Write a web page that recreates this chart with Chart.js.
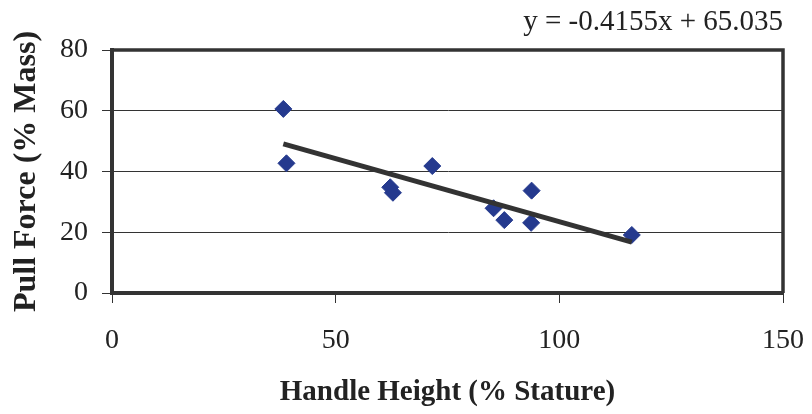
<!DOCTYPE html>
<html>
<head>
<meta charset="utf-8">
<script src="https://cdn.jsdelivr.net/npm/chart.js@4.4.1/dist/chart.umd.min.js"></script>
<style>
  html, body { margin: 0; padding: 0; background: #ffffff; }
  canvas { display: block; }
</style>
</head>
<body>
<canvas id="chart" width="812" height="414"></canvas>
<script>
// Handle height (% stature) and measured pull force (% body mass)
const handleHeight = [38.3, 39.0, 62.2, 62.8, 71.6, 85.3, 87.7, 93.7, 93.8, 116.2];
const pullForce    = [60.6, 42.7, 34.8, 33.0, 41.8, 27.9, 24.0, 23.1, 33.7, 19.1];

// Axis tick values
const xTickValues = [0, 50, 100, 150];
const yTickValues = [0, 20, 40, 60, 80];

// Linear trendline coefficients
const trendSlope = -0.4155;
const trendIntercept = 65.035;

const AXIS_COLOR = '#333333';
const TEXT_COLOR = '#222222';
const SERIF = "'Liberation Serif', 'Times New Roman', serif";

Chart.defaults.font.family = SERIF;
Chart.defaults.color = TEXT_COLOR;

const points = handleHeight.map((x, i) => ({ x: x, y: pullForce[i] }));
const xMin = Math.min(...handleHeight);
const xMax = Math.max(...handleHeight);
const trendPoints = [
  { x: xMin, y: trendSlope * xMin + trendIntercept },
  { x: xMax, y: trendSlope * xMax + trendIntercept }
];
const equationText = `y = ${trendSlope}x + ${trendIntercept}`;

// Outline the plot area on the top and right sides
const plotFrame = {
  id: 'plotFrame',
  beforeDatasetsDraw(chart) {
    const { ctx, chartArea: a } = chart;
    ctx.save();
    ctx.strokeStyle = AXIS_COLOR;
    ctx.lineWidth = 3.5;
    ctx.beginPath();
    ctx.moveTo(a.left, a.top);
    ctx.lineTo(a.right, a.top);
    ctx.lineTo(a.right, a.bottom);
    ctx.stroke();
    ctx.restore();
  }
};

new Chart(document.getElementById('chart'), {
  type: 'scatter',
  data: {
    datasets: [
      {
        type: 'line',
        label: 'Linear trend',
        data: trendPoints,
        borderColor: '#333333',
        borderWidth: 5,
        pointRadius: 0,
        fill: false,
        order: 0
      },
      {
        label: 'Pull force',
        data: points,
        pointStyle: 'rectRot',
        pointRadius: 8.5,
        pointBackgroundColor: '#253a8e',
        pointBorderColor: '#253a8e',
        pointBorderWidth: 1,
        order: 1
      }
    ]
  },
  options: {
    responsive: false,
    animation: false,
    layout: { padding: { left: 0, right: 29, top: 0, bottom: 0 } },
    plugins: {
      legend: { display: false },
      tooltip: { enabled: false },
      title: {
        display: true,
        text: equationText,
        align: 'end',
        color: TEXT_COLOR,
        font: { family: SERIF, size: 29, weight: 'normal' },
        padding: { top: 5, bottom: 10.2 }
      }
    },
    scales: {
      x: {
        type: 'linear',
        min: 0,
        max: 150,
        afterBuildTicks: s => { s.ticks = xTickValues.map(v => ({ value: v })); },
        afterFit: s => { s.height = 121; s.paddingLeft = 0; s.paddingRight = 0; },
        border: { display: true, color: AXIS_COLOR, width: 4 },
        grid: {
          drawOnChartArea: false,
          drawTicks: true,
          tickLength: 10,
          color: AXIS_COLOR,
          lineWidth: 1
        },
        ticks: {
          padding: 21,
          maxRotation: 0,
          color: TEXT_COLOR,
          font: { family: SERIF, size: 28 }
        },
        title: {
          display: true,
          text: 'Handle Height (% Stature)',
          color: TEXT_COLOR,
          font: { family: SERIF, size: 29, weight: 'bold' },
          padding: { top: 0, bottom: 4 }
        }
      },
      y: {
        type: 'linear',
        min: 0,
        max: 80,
        afterBuildTicks: s => { s.ticks = yTickValues.map(v => ({ value: v })); },
        afterFit: s => { s.width = 112; s.paddingTop = 0; s.paddingBottom = 0; },
        border: { display: true, color: AXIS_COLOR, width: 4 },
        grid: {
          drawOnChartArea: true,
          drawTicks: true,
          tickLength: 10,
          color: AXIS_COLOR,
          lineWidth: 1
        },
        ticks: {
          padding: 14,
          color: TEXT_COLOR,
          font: { family: SERIF, size: 28 }
        },
        title: {
          display: true,
          text: 'Pull Force (% Mass)',
          color: TEXT_COLOR,
          font: { family: SERIF, size: 32, weight: 'bold' },
          padding: { top: 8, bottom: 0 }
        }
      }
    }
  },
  plugins: [plotFrame]
});
</script>
</body>
</html>
